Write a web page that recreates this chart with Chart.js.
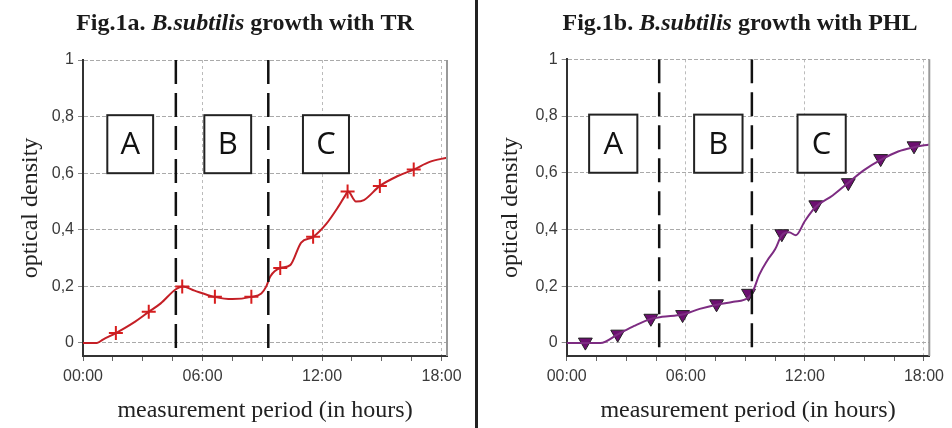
<!DOCTYPE html>
<html>
<head>
<meta charset="utf-8">
<script src="https://cdn.jsdelivr.net/npm/chart.js@4.4.1/dist/chart.umd.min.js"></script>
<style>
  body { margin: 0; background: #fff; }
  #wrap { position: relative; width: 952px; height: 428px; }
  canvas { position: absolute; top: 0; }
  #chartA { left: 0; }
  #chartB { left: 476px; }
  #divider { position: absolute; left: 475px; top: 0; width: 3px; height: 428px; background: #222; }
</style>
</head>
<body>
<div id="wrap">
  <canvas id="chartA" width="476" height="428"></canvas>
  <canvas id="chartB" width="476" height="428"></canvas>
  <div id="divider"></div>
</div>
<script>
// time in hours, optical density
const trTime = [0, 0.7, 1.0, 1.65, 2.5, 3.3, 3.9, 4.66, 5.0, 5.6, 6.6, 7.5, 8.45, 8.95, 9.2, 9.4, 9.9, 10.4, 10.95, 11.55, 12.2, 12.8, 13.15, 13.3, 13.7, 14.1, 14.9, 15.8, 16.6, 17.4, 18.27];
const trOd   = [0, 0, 0.012, 0.035, 0.07, 0.11, 0.14, 0.19, 0.2, 0.185, 0.163, 0.155, 0.163, 0.175, 0.2, 0.235, 0.265, 0.275, 0.355, 0.375, 0.42, 0.48, 0.52, 0.535, 0.5, 0.505, 0.555, 0.59, 0.613, 0.64, 0.655];
const trMarkTime = [1.65, 3.3, 4.98, 6.62, 8.45, 9.9, 11.55, 13.28, 14.9, 16.6];
const trMarkOd   = [0.035, 0.11, 0.2, 0.163, 0.163, 0.265, 0.375, 0.535, 0.555, 0.613];

const phlTime = [0, 1.7, 2.57, 3.4, 4.24, 4.8, 5.84, 6.7, 7.55, 8.4, 9.16, 9.4, 9.7, 10.1, 10.5, 10.84, 11.2, 11.55, 12.0, 12.55, 13.4, 14.19, 15.0, 15.82, 16.7, 17.5, 18.27];
const phlOd   = [0, 0, 0.03, 0.06, 0.085, 0.092, 0.1, 0.12, 0.135, 0.145, 0.16, 0.185, 0.24, 0.29, 0.33, 0.38, 0.39, 0.38, 0.43, 0.48, 0.52, 0.565, 0.61, 0.645, 0.675, 0.69, 0.7];
const phlMarkTime = [0.94, 2.57, 4.24, 5.84, 7.55, 9.16, 10.84, 12.55, 14.19, 15.82, 17.5];
const phlMarkOd   = [0.003, 0.031, 0.087, 0.1, 0.138, 0.175, 0.385, 0.487, 0.565, 0.65, 0.695];

// phase borders (hours) and phase label boxes
const phaseLinesA = [4.66, 9.3];
const phaseLinesB = [4.66, 9.33];
const boxLabels = ['A', 'B', 'C'];
const boxStartA = [1.22, 6.09, 11.04];
const boxEndA   = [3.52, 8.44, 13.35];
const boxStartB = [1.13, 6.42, 11.63];
const boxEndB   = [3.56, 8.86, 14.06];
const boxOdRange = [0.6, 0.805];

const hourLabels = ['00:00', '06:00', '12:00', '18:00'];

function pairs(xs, ys) {
  return xs.map((x, i) => ({ x: x, y: ys[i] }));
}

const figPlugin = {
  id: 'fig',
  beforeDatasetsDraw(chart, args, opts) {
    const ctx = chart.ctx;
    const xs = chart.scales.x, ys = chart.scales.y;
    const top = ys.getPixelForValue(boxOdRange[1]);
    const bottom = ys.getPixelForValue(boxOdRange[0]);
    ctx.save();
    opts.starts.forEach((s, i) => {
      const l = xs.getPixelForValue(s);
      const r = xs.getPixelForValue(opts.ends[i]);
      ctx.fillStyle = '#fff';
      ctx.fillRect(l, top, r - l, bottom - top);
      ctx.strokeStyle = '#222';
      ctx.lineWidth = 2;
      ctx.strokeRect(l, top, r - l, bottom - top);
      ctx.fillStyle = '#111';
      ctx.font = '31px "Open Sans"';
      ctx.textAlign = 'center';
      ctx.textBaseline = 'middle';
      ctx.fillText(boxLabels[i], (l + r) / 2, (top + bottom) / 2 + 1);
    });
    ctx.restore();
  },
  afterDraw(chart, args, opts) {
    const ctx = chart.ctx;
    const area = chart.chartArea;
    ctx.save();
    // right frame
    ctx.strokeStyle = '#999';
    ctx.lineWidth = 2;
    ctx.beginPath();
    ctx.moveTo(area.right, area.top);
    ctx.lineTo(area.right, area.bottom);
    ctx.stroke();
    // title with italic species name
    ctx.fillStyle = '#1a1a1a';
    ctx.textBaseline = 'alphabetic';
    ctx.textAlign = 'left';
    let total = 0;
    opts.title.forEach(seg => {
      ctx.font = seg[1] + ' 24px "Liberation Serif"';
      total += ctx.measureText(seg[0]).width;
    });
    let x = opts.titleX - total / 2;
    opts.title.forEach(seg => {
      ctx.font = seg[1] + ' 24px "Liberation Serif"';
      ctx.fillText(seg[0], x, 30);
      x += ctx.measureText(seg[0]).width;
    });
    ctx.restore();
  }
};

function phaseLine(h) {
  return {
    type: 'line',
    data: [{ x: h, y: 1 }, { x: h, y: -0.018 }],
    borderColor: '#111',
    borderWidth: 2.5,
    borderDash: [24, 9],
    pointRadius: 0,
    fill: false
  };
}

function makeChart(id, s) {
  return new Chart(document.getElementById(id), {
    type: 'scatter',
    data: {
      datasets: [
        ...s.phases.map(phaseLine),
        {
          type: 'line',
          data: pairs(s.time, s.od),
          borderColor: s.lineColor,
          borderWidth: 2,
          cubicInterpolationMode: 'monotone',
          pointRadius: 0,
          fill: false
        },
        {
          data: pairs(s.markTime, s.markOd),
          showLine: false,
          pointStyle: s.markStyle,
          rotation: s.markRotation,
          pointRadius: s.markRadius,
          pointBorderWidth: s.markBorderWidth,
          borderColor: s.markBorder,
          backgroundColor: s.markFill
        }
      ]
    },
    options: {
      responsive: false,
      animation: false,
      layout: { padding: { top: s.top, right: s.right, left: 0, bottom: 0 } },
      plugins: {
        legend: { display: false },
        tooltip: { enabled: false },
        fig: { title: s.title, titleX: s.titleX, starts: s.boxStart, ends: s.boxEnd }
      },
      scales: {
        x: {
          type: 'linear',
          min: 0,
          max: 18.27,
          afterFit: sc => { sc.height = 72; },
          ticks: {
            stepSize: 1.5,
            includeBounds: false,
            autoSkip: false,
            maxRotation: 0,
            padding: 6,
            color: '#3a3a3a',
            font: { family: '"Liberation Sans"', size: 16 },
            callback: v => (Math.abs(v % 6) < 1e-6 ? hourLabels[Math.round(v / 6)] : '')
          },
          grid: {
            color: c => (c.tick && c.tick.value > 0 && Math.abs(c.tick.value % 6) < 1e-6 ? '#bbb' : 'rgba(0,0,0,0)'),
            tickColor: '#666',
            tickLength: 5,
            lineWidth: 1
          },
          border: { color: '#333', width: 2, dash: [3, 3] },
          title: {
            display: true,
            text: 'measurement period (in hours)',
            color: '#222',
            font: { family: '"Liberation Serif"', size: 24, lineHeight: 1.2 },
            padding: { top: 0, bottom: 3 }
          }
        },
        y: {
          min: -0.046,
          max: 1,
          afterFit: sc => { sc.width = s.left; },
          ticks: {
            stepSize: 0.2,
            includeBounds: false,
            padding: 4,
            color: '#3a3a3a',
            font: { family: '"Liberation Sans"', size: 16 },
            callback: v => (v === 0 ? '0' : Math.abs(v - 1) < 1e-6 ? '1' : v.toFixed(1).replace('.', ','))
          },
          grid: {
            color: '#aaa',
            tickColor: '#888',
            tickLength: 5,
            lineWidth: 1
          },
          border: { color: '#333', width: 2, dash: [4, 2] },
          title: {
            display: true,
            text: 'optical density',
            color: '#222',
            font: { family: '"Liberation Serif"', size: 24, lineHeight: 1.2 },
            padding: { top: s.yTitlePad, bottom: 0 }
          }
        }
      }
    },
    plugins: [figPlugin]
  });
}

makeChart('chartA', {
  time: trTime, od: trOd, markTime: trMarkTime, markOd: trMarkOd,
  phases: phaseLinesA, boxStart: boxStartA, boxEnd: boxEndA,
  lineColor: '#c41f26',
  markStyle: 'cross', markRotation: 0, markRadius: 7, markBorderWidth: 2,
  markBorder: '#d81e1e', markFill: '#d81e1e',
  title: [['Fig.1a. ', 'bold'], ['B.subtilis', 'italic bold'], [' growth with TR', 'bold']],
  titleX: 245, top: 60, right: 29, left: 83, yTitlePad: 16.6
});

makeChart('chartB', {
  time: phlTime, od: phlOd, markTime: phlMarkTime, markOd: phlMarkOd,
  phases: phaseLinesB, boxStart: boxStartB, boxEnd: boxEndB,
  lineColor: '#7d2c82',
  markStyle: 'triangle', markRotation: 180, markRadius: 8, markBorderWidth: 1,
  markBorder: '#222', markFill: '#6c0f70',
  title: [['Fig.1b. ', 'bold'], ['B.subtilis', 'italic bold'], [' growth with PHL', 'bold']],
  titleX: 264, top: 59.3, right: 22.7, left: 90.7, yTitlePad: 20.6
});
</script>
</body>
</html>
